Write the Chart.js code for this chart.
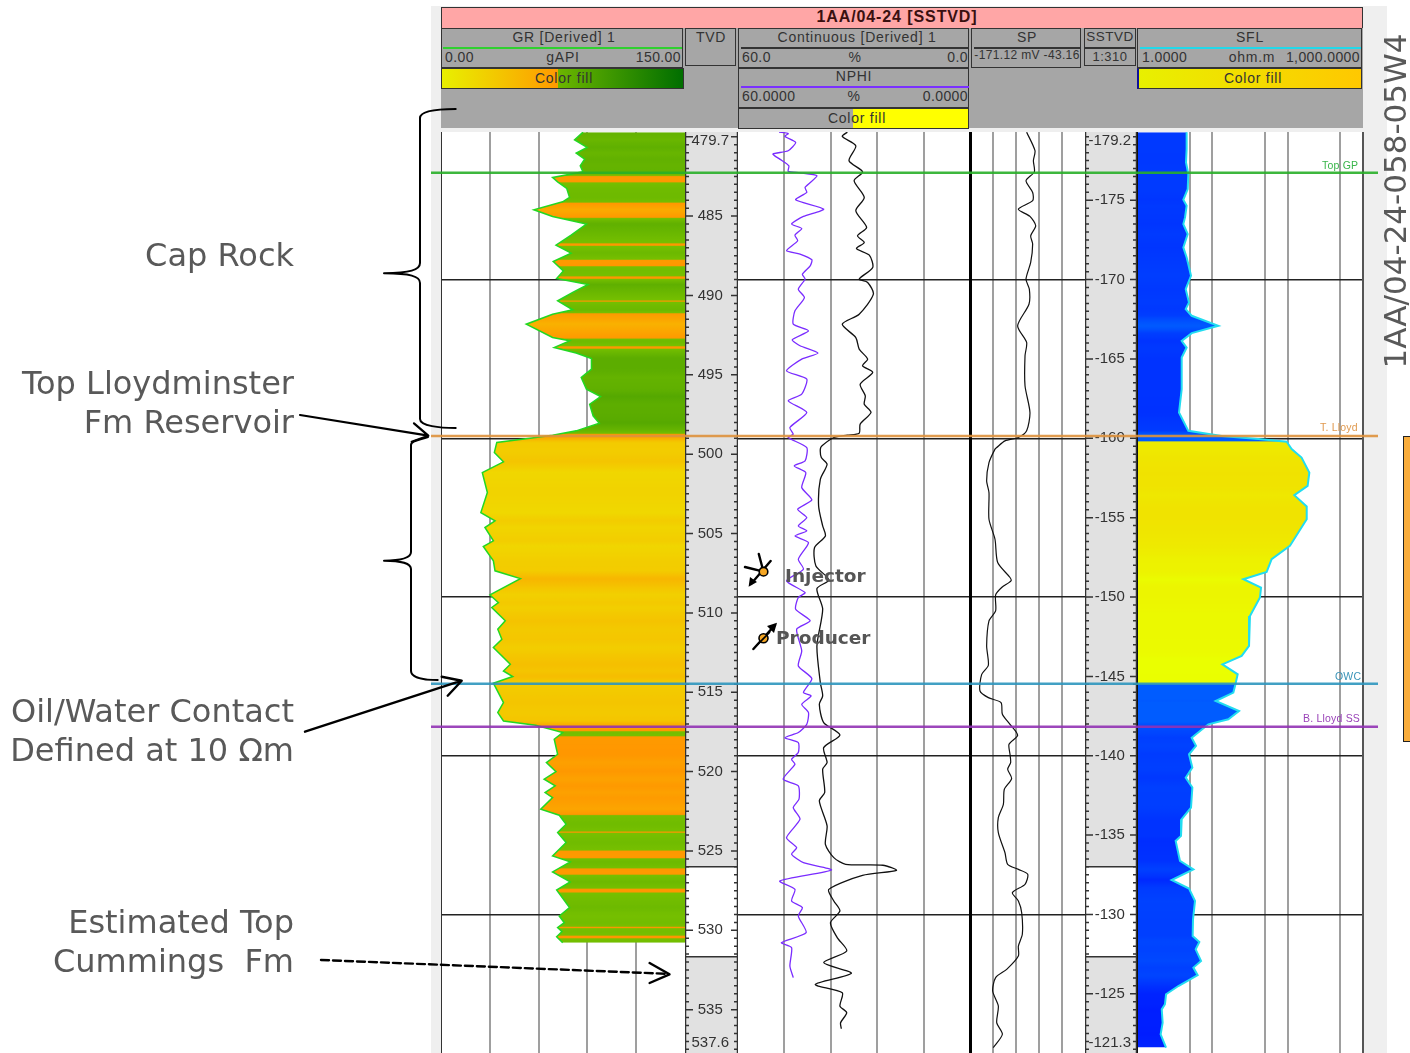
<!DOCTYPE html>
<html><head><meta charset="utf-8">
<style>
html,body{margin:0;padding:0;background:#fff;overflow:hidden}
#page{position:relative;width:1410px;height:1053px;overflow:hidden;font-family:"Liberation Sans",Arial,sans-serif}
#page>*{position:absolute}
canvas{display:block}
.r{position:absolute;box-sizing:border-box}
.box{position:absolute;box-sizing:border-box;border:1.5px solid #333}
.t{position:absolute;white-space:pre;color:#333;font-size:14px;letter-spacing:.75px;line-height:16px;transform:translate(-50%,-50%)}
.tl{position:absolute;white-space:pre;color:#333;font-size:14px;letter-spacing:.4px;line-height:16px;transform:translateY(-50%)}
.tr{position:absolute;white-space:pre;color:#333;font-size:14px;letter-spacing:.4px;line-height:16px;transform:translate(-100%,-50%)}
.lab{position:absolute;white-space:pre;color:#595959;font:32px "DejaVu Sans",sans-serif;line-height:36px;transform:translate(-100%,-50%)}
.bold{position:absolute;white-space:pre;color:#555;font:bold 18.5px "DejaVu Sans",sans-serif;line-height:22px;transform:translateY(-50%)}
</style>
<script src="https://cdn.jsdelivr.net/npm/chart.js@4"></script>
</head><body><div id="page"></div>
<script>
// ---------- DATA ----------
const depthMin = 479.7, depthMax = 537.73;
const grDepth = [479.71,480.19,480.67,481.03,481.41,481.83,482.21,482.56,482.84,483.26,483.82,484.10,484.60,485.02,485.50,486.20,486.83,487.33,487.86,488.45,488.93,489.31,489.81,490.34,490.90,491.18,491.81,492.65,492.86,493.28,493.63,493.97,494.64,495.17,495.90,496.37,496.85,497.58,498.05,498.53,498.80,498.95,499.26,499.89,500.48,501.16,502.42,503.68,504.20,504.62,505.46,505.82,506.72,507.35,507.84,508.87,509.35,509.66,510.50,511.03,511.66,512.18,513.24,513.66,514.01,514.43,515.65,516.28,516.81,517.08,517.54,517.96,518.91,519.43,520.0,520.48,520.90,521.32,521.64,522.37,522.75,523.32,523.84,524.47,525.32,525.69,526.32,526.95,527.46,528.57,529.10,529.52,529.83,530.08,530.40,530.78];
const grValue = [87.3,82.1,89.8,83.1,88.3,85.6,87.3,68.6,71.7,77.3,79.0,74.8,57.1,68.6,89.4,80.0,70.7,80.0,69.0,75.2,71.1,90.4,81.0,71.7,81.0,68.6,52.4,68.6,79.0,69.6,83.1,92.5,92.5,86.2,89.4,98.1,91.4,93.5,97.3,83.1,68.6,58.2,34.3,32.8,38.4,25.4,28.5,24.5,33.2,27.0,32.2,26.0,32.2,33.2,48.8,30.1,35.3,31.2,39.5,34.9,37.4,32.2,42.6,38.4,44.1,32.2,38.4,34.9,38.4,58.2,74.8,69.6,71.7,64.8,70.7,63.4,70.2,64.0,68.6,61.3,72.7,76.9,71.7,76.9,68.6,79.4,68.6,79.4,71.1,79.0,72.7,75.8,71.7,74.4,71.1,74.8];
const nphiDepth = [479.71,479.80,479.98,480.36,480.88,481.09,481.41,481.83,482.18,482.27,482.46,483.19,483.51,483.97,484.56,485.02,485.50,485.78,486.20,486.55,487.18,487.39,487.75,488.13,488.66,488.97,489.60,490.13,490.97,491.81,492.23,492.79,493.17,493.63,494.01,494.75,495.27,496.22,496.64,497.37,498.32,498.74,498.95,499.58,500.42,500.74,501.16,502.10,502.88,503.47,503.99,504.52,504.83,505.15,505.57,506.62,507.25,507.98,508.72,509.03,509.77,510.50,511.03,512.39,513.34,514.14,515.02,515.23,515.76,516.28,517.02,517.54,517.86,518.17,518.80,519.22,519.54,520.48,520.90,521.74,522.27,523.00,524.16,524.79,525.21,525.74,526.20,526.89,527.42,528.15,528.57,529.10,530.15,530.78,531.09,532.25,532.98];
const nphiValue = [49.38,47.02,47.89,45.09,47.02,50.95,49.2,46.84,47.02,43.96,39.58,42.65,42.21,45.09,37.84,43.08,46.14,43.52,45.27,44.57,47.45,43.96,40.9,41.33,43.35,42.65,44.4,42.82,45.27,45.71,41.77,45.97,43.96,39.32,43.52,47.45,42.21,43.52,47.02,42.21,46.58,45.71,47.02,42.21,42.65,45.45,42.47,43.52,40.9,44.57,42.21,44.4,42.21,45.27,41.77,44.4,43.08,47.45,42.65,44.4,45.09,41.33,44.83,43.52,44.4,40.9,43.08,41.07,43.52,41.77,42.21,44.4,47.89,44.4,44.4,46.14,45.27,48.33,44.4,44.22,45.71,43.96,47.45,44.83,46.14,43.08,35.83,49.2,45.27,46.14,43.35,44.4,42.38,48.77,46.14,46.58,45.71];
const contDepth = [479.71,479.98,480.57,481.51,482.21,482.77,483.82,484.66,485.71,486.24,486.66,487.04,487.46,488.24,488.97,489.18,489.92,491.18,491.81,492.65,493.38,494.01,494.43,494.85,495.59,496.32,496.85,497.37,498.11,498.68,498.80,498.95,499.47,499.68,500.21,500.63,501.58,503.26,504.52,505.15,505.88,507.04,507.92,508.47,509.77,512.08,514.39,515.23,515.76,516.91,517.69,518.49,519.43,519.85,521.32,521.84,523.42,524.58,525.42,525.84,525.90,526.22,526.54,527.42,528.15,528.78,529.52,530.46,531.30,532.04,532.71,533.41,533.93,534.77,535.19,535.82,536.20];
const contValue = [31.72,33.03,29.53,31.28,27.79,29.97,27.35,29.53,26.74,29.09,27.35,29.36,26.04,25.16,28.66,26.47,24.99,28.66,33.03,29.53,28.66,26.47,27.79,25.16,28.4,27.08,27.35,25.6,28.4,28.66,31.72,35.22,38.27,38.71,38.45,36.96,38.71,39.15,38.1,37.4,40.2,39.85,36.52,39.59,38.1,39.59,38.71,38.1,38.97,37.84,33.64,37.84,36.96,38.1,37.58,38.97,36.96,37.4,35.22,32.15,22.54,19.04,27.79,36.52,35.22,33.64,36.09,34.34,31.89,37.84,30.67,40.02,33.03,33.64,31.89,33.47,33.29];
const spDepth = [479.71,480.88,481.51,482.21,482.77,483.51,484.03,484.56,485.02,485.61,486.24,486.76,487.92,488.97,489.60,490.55,491.91,492.96,493.80,495.69,497.37,498.53,498.95,499.16,499.58,499.68,500.53,501.68,502.42,504.10,505.36,506.83,507.77,507.98,508.40,508.87,509.87,510.50,512.08,513.30,513.87,514.92,515.34,515.65,516.39,517.02,517.71,518.28,518.91,519.43,519.85,520.44,521.11,522.06,522.90,523.84,525.11,525.84,526.16,526.47,527.10,527.63,528.15,528.89,530.25,530.99,531.62,532.46,532.98,533.82,534.77,535.82,536.55,537.39];
const spValue = [-108.1,-98.8,-100.6,-99.5,-108.8,-101.4,-101.4,-117.3,-104.4,-98.0,-103.6,-101.4,-103.6,-108.8,-105.1,-105.5,-118.1,-108.1,-109.9,-109.9,-104.4,-108.1,-117.3,-132.2,-141.4,-143.3,-150.0,-152.6,-150.0,-150.0,-143.3,-140.3,-126.6,-125.5,-135.9,-142.6,-142.6,-150.0,-152.6,-150.7,-158.1,-160.0,-150.7,-136.6,-135.1,-126.6,-118.1,-127.7,-126.6,-125.9,-129.2,-124.8,-132.9,-134.0,-139.6,-139.6,-132.2,-129.2,-117.3,-106.9,-109.9,-124.0,-117.3,-113.6,-112.9,-117.3,-117.3,-130.3,-142.6,-145.9,-139.6,-141.4,-135.1,-145.2];
const sflDepth = [479.71,480.78,481.62,482.35,483.30,483.97,484.35,485.08,485.50,486.13,486.97,487.61,488.03,488.76,489.60,490.44,490.86,491.28,491.91,492.37,492.86,493.28,493.91,495.90,497.37,498.53,498.85,499.05,499.22,499.68,500.21,501.16,502.00,502.58,503.30,504.10,505.78,506.62,507.42,507.88,508.40,509.03,510.19,512.08,512.71,513.24,513.87,514.60,515.02,515.55,516.18,516.70,517.02,517.86,518.38,518.91,519.75,520.38,521.00,522.27,523.00,524.05,524.37,525.63,526.16,526.83,527.37,528.15,529.31,530.36,530.74,531.20,531.93,532.35,532.83,533.51,534.03,534.66,534.98,535.82,536.55,537.39];
const sflValue = [4.56,4.56,4.47,4.80,4.71,4.12,4.56,4.34,4.12,4.71,4.12,4.56,4.80,5.21,4.43,4.90,4.43,5.32,12.0,5.32,3.92,4.56,3.92,3.92,3.61,4.80,13.3,40.8,97.0,113,153,194,184,122.5,179,179,107,61.3,52.6,25.8,44.3,42.9,31.6,30.7,24.5,13.6,21.7,20,19,11.07,22.6,16.3,8.85,5.32,6.07,4.90,5.43,4.43,5.43,5.21,3.92,3.84,3.26,3.72,5.6,2.88,4.9,5.89,5.54,5.48,6.72,6.01,7.08,5.6,6.38,3.54,2.43,2.35,2.13,2.19,2.06,2.43];
const oilZoneTop = 499.22, oilZoneBase = 514.5;
const grGridTicks = [30,60,90,120];
const neutronGridTicks = [12,24,36,48];
const spGridTicks = [-145.53,-119.94,-94.34,-68.75];
const sflGridTicks = [5,10,50,100,500];
const depthGridLines = [489,499,509,519,529];
const tvdTickPos = [480.25,485,490,495,500,505,510,515,520,525,530,535,537.1];
const tvdTickLabels = ['479.7','485','490','495','500','505','510','515','520','525','530','535','537.6'];
const sstvdTickPos = [-178.75,-175,-170,-165,-160,-155,-150,-145,-140,-135,-130,-125,-121.9];
const sstvdTickLabels = ['-179.2','-175','-170','-165','-160','-155','-150','-145','-140','-135','-130','-125','-121.3'];
const sstvdOffset = 659;
const topNames = ['Top GP','T. Lloyd','OWC','B. Lloyd SS'];
const topDepths = [482.26,498.86,514.46,517.17];
const topColors = ['rgba(40,175,40,0.9)','rgba(222,145,60,0.9)','rgba(45,150,190,0.9)','rgba(145,50,180,0.9)'];
const coreGap = [525.99,531.66];

// ---------- helpers ----------
const page = document.getElementById('page');
function el(cls,css,txt){const d=document.createElement('div');d.className=cls;d.style.cssText=css;if(txt!==undefined)d.textContent=txt;page.appendChild(d);return d;}
function rect(x,y,w,h,bg,extra){return el('r',`left:${x}px;top:${y}px;width:${w}px;height:${h}px;background:${bg};${extra||''}`);}
function box(x,y,w,h,extra){return el('box',`left:${x}px;top:${y}px;width:${w}px;height:${h}px;${extra||''}`);}
function tc(x,y,s,extra){return el('t',`left:${x}px;top:${y}px;${extra||''}`,s);}
function tl(x,y,s,extra){return el('tl',`left:${x}px;top:${y}px;${extra||''}`,s);}
function tr(x,y,s,extra){return el('tr',`left:${x}px;top:${y}px;${extra||''}`,s);}
function pts(ds,vs){return ds.map((d,i)=>({x:vs[i],y:d}));}
function interp(ds,vs,d){
  if(d<=ds[0])return vs[0];
  for(let i=1;i<ds.length;i++){if(d<=ds[i]){const f=(d-ds[i-1])/(ds[i]-ds[i-1]);return vs[i-1]+f*(vs[i]-vs[i-1]);}}
  return vs[vs.length-1];
}
function mix(a,b,f){f=Math.max(0,Math.min(1,f));return `rgb(${a.map((c,i)=>Math.round(c+(b[i]-c)*f)).join(',')})`;}
function grColor(v){const t=v/150;return t<0.48?mix([232,250,0],[255,150,0],t/0.48):mix([118,192,0],[20,120,0],(t-0.48)/0.52);}
function sflColor(v,d){const L=Math.log10(v);
  if(d>=oilZoneTop&&d<=oilZoneBase)return mix([234,255,0],[240,226,0],(L-1.3));
  return mix([0,28,255],[0,92,255],(L-0.3)/0.8);}
function depthGradient(ctx,ds,vs,colorFn){
  const c=ctx.chart; if(!c.chartArea||!c.scales.y)return 'rgba(0,0,0,0)';
  const y=c.scales.y, d0=ds[0], d1=ds[ds.length-1];
  const g=c.ctx.createLinearGradient(0,y.getPixelForValue(d0),0,y.getPixelForValue(d1));
  const n=Math.round((d1-d0)/0.08);
  for(let i=0;i<=n;i++){const d=d0+(d1-d0)*i/n;g.addColorStop(i/n,colorFn(interp(ds,vs,d),d));}
  return g;
}
function makeCanvas(x,y,w,h){const c=document.createElement('canvas');c.width=w;c.height=h;c.style.cssText=`position:absolute;left:${x}px;top:${y}px;width:${w}px;height:${h}px`;page.appendChild(c);return c;}
function fixedTicks(arr){return s=>{s.ticks=arr.map(v=>({value:v}));};}
function track(x,w,datasets,xScale,gridTicks){
  return new Chart(makeCanvas(x,132,w,921),{type:'line',data:{datasets},options:{
    responsive:false,animation:false,indexAxis:'y',layout:{padding:0,autoPadding:false},
    elements:{point:{radius:0},line:{tension:0}},
    plugins:{legend:{display:false},tooltip:{enabled:false},title:{display:false}},
    scales:{
      x:Object.assign({type:'linear',position:'top',display:true,afterBuildTicks:fixedTicks(gridTicks),
        ticks:{display:false},border:{display:false},grid:{color:'#9f9f9f',lineWidth:2,drawTicks:false}},xScale),
      y:{type:'linear',position:'left',reverse:true,min:depthMin,max:depthMax,display:true,afterBuildTicks:fixedTicks(depthGridLines),
        ticks:{display:false},border:{display:false},grid:{color:'#222',lineWidth:1.5,drawTicks:false}}
    }}});
}

// ---------- static frame ----------
rect(431,6,956,1047,'#efefef');
rect(441,132,922,921,'#fff');
rect(441,7,922,21,'#ffa6a6','border:1.5px solid #333;border-bottom:none;box-sizing:border-box');
rect(441,28,922,100,'#a6a6a6');
tc(897,17,'1AA/04-24 [SSTVD]','font-weight:bold;font-size:16px;letter-spacing:.9px;color:#3a1010');
// GR
box(441,28,242,40);
tc(564,37,'GR [Derived] 1');rect(443,47,239,2,'#2fd02f');
tl(445,57,'0.00');tc(563,57,'gAPI');tr(681,57,'150.00');
box(441,68,243,21,'background:linear-gradient(90deg,#e8f000 0%,#ff9a00 48%,#6cb600 48%,#006e00 100%)');
tc(564,78,'Color fill');
// TVD
box(685,28,51,38);tc(711,37,'TVD');
// Continuous
box(738,28,231,40);tc(857,37,'Continuous [Derived] 1');rect(741,47,227,2,'#333');
tl(742,57,'60.0');tc(855,57,'%');tr(968,57,'0.0');
// NPHI
box(738,68,231,40);tc(854,76,'NPHI');rect(741,86,228,2,'#7a30ff');
tl(742,96,'60.0000');tc(854,96,'%');tr(968,96,'0.0000');
box(738,108,231,21,'background:linear-gradient(90deg,#a6a6a6 50%,#ffff00 50%)');tc(857,118,'Color fill');
// SP
box(971,28,110,40);tc(1027,37,'SP');rect(974,47,106,1.5,'#333');
tc(1027,55,'-171.12 mV -43.16','font-size:12px;letter-spacing:.35px');
// SSTVD
box(1084,28,52,38);rect(1085,47,50,1.5,'#333');tc(1110,37,'SSTVD','font-size:13.5px;letter-spacing:.5px');tc(1110,57,'1:310','font-size:13px;letter-spacing:.5px');
// SFL
box(1137,28,225,40);tc(1250,37,'SFL');rect(1140,47,221,2,'#22d8ea');
tl(1142,57,'1.0000');tc(1252,57,'ohm.m');tr(1360,57,'1,000.0000');
box(1137,68,225,21,'background:linear-gradient(90deg,#e8f000,#ffc800);border-left:2px solid #10109a');tc(1253,78,'Color fill');

// ---------- tracks ----------
track(441,244,[{label:'GR',data:pts(grDepth,grValue),borderColor:'#22d822',borderWidth:1.5,fill:{value:150},
  backgroundColor:ctx=>depthGradient(ctx,grDepth,grValue,grColor)}],{min:0,max:150},grGridTicks);
track(738,232,[
  {label:'NPHI',data:pts(nphiDepth,nphiValue),borderColor:'#7a2cff',borderWidth:1.3,fill:false,tension:0.2},
  {label:'Continuous',data:pts(contDepth,contValue),borderColor:'#111',borderWidth:1.3,fill:false,tension:0.25}
],{min:0,max:60,reverse:true},neutronGridTicks);
track(970,115,[{label:'SP',data:pts(spDepth,spValue),borderColor:'#111',borderWidth:1.2,fill:false,tension:0.25}],{min:-171.12,max:-43.16},spGridTicks);
track(1137,226,[{label:'SFL',data:pts(sflDepth,sflValue),borderColor:'#22dcf0',borderWidth:2,fill:{value:1},
  backgroundColor:ctx=>depthGradient(ctx,sflDepth,sflValue,sflColor)}],{type:'logarithmic',min:1,max:1000},sflGridTicks);

// depth tracks: axis with labels, grey background, tick marks from the scale
function depthAxis(x,w,min,max,tickPos,tickLabels,offset,padding){
  const gapA=coreGap[0]+offset,gapB=coreGap[1]+offset;
  const marks={id:'marks',beforeDraw(ch){
    const y=ch.scales.y,c=ch.ctx,W=ch.width,H=ch.height;
    c.save();c.fillStyle='#e1e1e1';c.fillRect(0,0,W,H);
    const ya=y.getPixelForValue(gapA),yb=y.getPixelForValue(gapB);
    c.fillStyle='#fff';c.fillRect(0,ya,W,yb-ya);
    c.strokeStyle='#333';c.lineWidth=1.5;
    c.beginPath();c.moveTo(0,ya);c.lineTo(W,ya);c.moveTo(0,yb);c.lineTo(W,yb);c.stroke();
    c.beginPath();
    for(let v=Math.ceil(min*2)/2;v<=max;v+=0.5){
      const p=y.getPixelForValue(v),maj=Math.abs(v/5-Math.round(v/5))<1e-6;
      c.moveTo(0,p);c.lineTo(maj?8:4,p);c.moveTo(W,p);c.lineTo(W-(maj?7:4),p);
    }
    c.stroke();
    c.lineWidth=1.5;c.beginPath();c.moveTo(0.5,0);c.lineTo(0.5,H);c.moveTo(W-0.5,0);c.lineTo(W-0.5,H);c.stroke();
    c.restore();
  }};
  return new Chart(makeCanvas(x,132,w,921),{type:'line',data:{datasets:[]},plugins:[marks],options:{
    responsive:false,animation:false,layout:{padding:0,autoPadding:false},
    plugins:{legend:{display:false},tooltip:{enabled:false}},
    scales:{
      x:{type:'linear',display:false},
      y:{type:'linear',position:'left',reverse:true,min,max,afterBuildTicks:fixedTicks(tickPos),
        afterFit:s=>{s.width=w-1;s.paddingTop=0;s.paddingBottom=0;},
        border:{display:false},grid:{display:false,drawTicks:false},
        ticks:{autoSkip:false,crossAlign:'center',padding,color:'#333',font:{family:'"Liberation Sans"',size:15},
          callback:(v,i)=>tickLabels[i]}}
    }}});
}
depthAxis(685,53,depthMin,depthMax,tvdTickPos,tvdTickLabels,0,8);
depthAxis(1085,52,depthMin-sstvdOffset,depthMax-sstvdOffset,sstvdTickPos,sstvdTickLabels,-sstvdOffset,5);

// track borders
rect(440.5,132,1.5,921,'#333');
rect(969,132,3,921,'#000');rect(1136.5,132,1.5,921,'#111');rect(1362,132,2,921,'#555');

// formation tops overlay, on a scale that spans the whole log width
new Chart(makeCanvas(431,132,947,921),{type:'line',data:{datasets:topDepths.map((d,i)=>({
    label:topNames[i],data:[{x:0,y:d},{x:1,y:d}],borderColor:topColors[i],borderWidth:2.5,fill:false,pointRadius:0}))},
  options:{responsive:false,animation:false,layout:{padding:0,autoPadding:false},parsing:true,
    plugins:{legend:{display:false},tooltip:{enabled:false}},
    scales:{x:{type:'linear',min:0,max:1,display:false},y:{type:'linear',reverse:true,min:depthMin,max:depthMax,display:false}}}});
tl(1322,165,'Top GP','font-size:10.5px;letter-spacing:.2px;color:#39b54a');
tl(1320,427,'T. Lloyd','font-size:10.5px;letter-spacing:.2px;color:#e09a50');
tl(1335,676,'OWC','font-size:10.5px;letter-spacing:.2px;color:#3a94b8');
tl(1303,718,'B. Lloyd SS','font-size:10.5px;letter-spacing:.2px;color:#9a44b8');

// ---------- annotations ----------
const NS='http://www.w3.org/2000/svg';
const svg=document.createElementNS(NS,'svg');
svg.setAttribute('width','1410');svg.setAttribute('height','1053');svg.style.cssText='position:absolute;left:0;top:0;pointer-events:none';
svg.innerHTML=`
<g fill="none" stroke="#000" stroke-width="2" stroke-linecap="round" stroke-linejoin="round">
<path d="M455.7 109 C440 109 420 110 420 118 L420 263 C420 270 410 273 384 273.3 C410 273.5 420 276 420 283 L420 419 C420 426 440 428 455.7 428"/>
<path d="M428 437 C420 440 411 440 411 445 L411 552 C411 558 402 560.5 384 560.7 C402 561 411 563 411 569 L411 671 C411 678 425 680 437.7 680"/>
<path d="M300 415 L428.3 435.7 M414 423.3 L428.3 435.7 L411.7 441.7" stroke-width="2.2"/>
<path d="M305 731.7 L461.7 680.7 M441.7 676.7 L461.7 680.7 L447.7 695.7" stroke-width="2.4"/>
<path d="M321 960 L667 973.8" stroke-width="2.4" stroke-dasharray="8 4"/>
<path d="M649.6 963 L669.5 974.3 L649.6 983" stroke-width="2.4"/>
<path d="M745 567 L763.5 571.7 M758.8 554 L763.5 571.7 M770.6 561 L751 584" stroke-width="2.4"/>
<path d="M753.4 649 L775 625" stroke-width="2.4"/>
</g>
<path d="M748.6 586.7 L750 577 L757 582 Z M777 622.7 L767 626 L774 633 Z" fill="#000"/>
<circle cx="763.5" cy="571.7" r="4.3" fill="#f5a623" stroke="#000" stroke-width="1.6"/>
<circle cx="763.5" cy="638.3" r="4.5" fill="#f5a623" stroke="#000" stroke-width="1.6"/>
<path d="M757 645 L770 632" stroke="#000" stroke-width="1.6"/>`;
page.appendChild(svg);
el('bold','left:785px;top:576px','Injector');
el('bold','left:776px;top:638px','Producer');

el('lab','left:294px;top:255px','Cap Rock');
el('lab','left:294px;top:383px','Top Lloydminster');
el('lab','left:294px;top:422px','Fm Reservoir');
el('lab','left:294px;top:711px','Oil/Water Contact');
el('lab','left:294px;top:750px','Defined at 10 Ωm');
el('lab','left:294px;top:922px','Estimated Top');
el('lab','left:294px;top:961px','Cummings  Fm');
el('lab','left:1395px;top:201px;transform:translate(-50%,-50%) rotate(-90deg);font-size:31px','1AA/04-24-058-05W4');
rect(1402.5,436,8,306,'#f9ad3c','border:1.5px solid #222;border-right:none;box-sizing:border-box');
</script></body></html>
